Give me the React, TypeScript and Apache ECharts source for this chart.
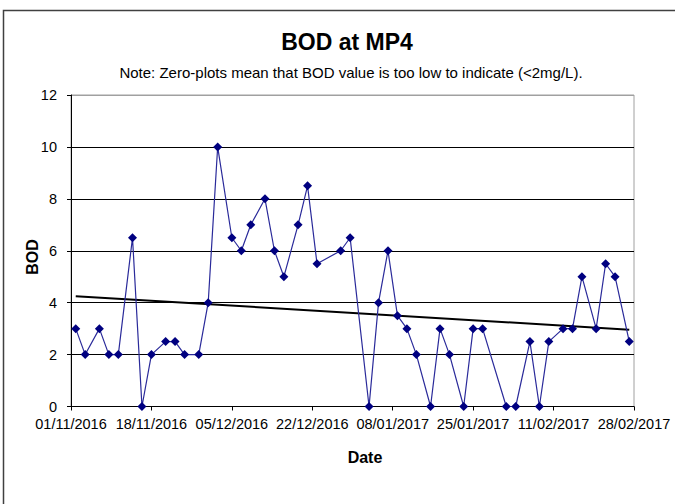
import React, { useEffect, useRef } from "react";
import * as echarts from "echarts";

const dates = [
  "2016-11-02", "2016-11-04", "2016-11-07", "2016-11-09", "2016-11-11", "2016-11-14", "2016-11-16",
  "2016-11-18", "2016-11-21", "2016-11-23", "2016-11-25", "2016-11-28", "2016-11-30", "2016-12-02",
  "2016-12-05", "2016-12-07", "2016-12-09", "2016-12-12", "2016-12-14", "2016-12-16", "2016-12-19",
  "2016-12-21", "2016-12-23", "2016-12-28", "2016-12-30", "2017-01-03", "2017-01-05", "2017-01-07",
  "2017-01-09", "2017-01-11", "2017-01-13", "2017-01-16", "2017-01-18", "2017-01-20", "2017-01-23",
  "2017-01-25", "2017-01-27", "2017-02-01", "2017-02-03", "2017-02-06", "2017-02-08", "2017-02-10",
  "2017-02-13", "2017-02-15", "2017-02-17", "2017-02-20", "2017-02-22", "2017-02-24", "2017-02-27",
];
const bod = [
  3, 2, 3, 2, 2, 6.5, 0,
  2, 2.5, 2.5, 2, 2, 4, 10,
  6.5, 6, 7, 8, 6, 5, 7,
  8.5, 5.5, 6, 6.5, 0, 4, 6,
  3.5, 3, 2, 0, 3, 2, 0,
  3, 3, 0, 0, 2.5, 0, 2.5,
  3, 3, 5, 3, 5.5, 5, 2.5,
];
const axisStart = "2016-11-01";
const axisEnd = "2017-02-28";
const tickDays = 17;
const yTicks = [0, 2, 4, 6, 8, 10, 12];

const DAY = 86400000;
const toUTC = (s: string) => {
  const [y, m, d] = s.split("-").map(Number);
  return Date.UTC(y, m - 1, d);
};
const base = toUTC(axisStart);
const toDay = (s: string) => Math.round((toUTC(s) - base) / DAY);
const fmt = (day: number) => {
  const d = new Date(base + day * DAY);
  const dd = String(d.getUTCDate()).padStart(2, "0");
  const mm = String(d.getUTCMonth() + 1).padStart(2, "0");
  return `${dd}/${mm}/${d.getUTCFullYear()}`;
};

export default function App() {
  const ref = useRef<HTMLDivElement>(null);
  useEffect(() => {
    if (!ref.current) return;
    const chart = echarts.init(ref.current, undefined, { renderer: "svg" });
    const xs = dates.map(toDay);
    const pts = xs.map((x, i) => [x, bod[i]]);
    // least-squares trend line (as in the spreadsheet)
    const n = xs.length;
    const mx = xs.reduce((a, b) => a + b, 0) / n;
    const my = bod.reduce((a, b) => a + b, 0) / n;
    let sxy = 0, sxx = 0;
    xs.forEach((x, i) => {
      sxy += (x - mx) * (bod[i] - my);
      sxx += (x - mx) * (x - mx);
    });
    const slope = sxy / sxx;
    const icpt = my - slope * mx;
    const x0 = xs[0], x1 = xs[n - 1];
    const trend = [[x0, icpt + slope * x0], [x1, icpt + slope * x1]];
    const font = "'Liberation Sans', Arial, sans-serif";
    const maxDay = toDay(axisEnd);

    chart.setOption({
      animation: false,
      backgroundColor: "#fff",
      textStyle: { fontFamily: font },
      title: [
        {
          text: "BOD at MP4",
          left: 342,
          top: 25,
          textAlign: "center",
          textStyle: { fontFamily: font, fontSize: 23, fontWeight: "bold", color: "#000" },
        },
        {
          text: "Note: Zero-plots mean that BOD value is too low to indicate (<2mg/L).",
          left: 346,
          top: 60,
          textAlign: "center",
          textStyle: { fontFamily: font, fontSize: 15, fontWeight: "normal", color: "#000" },
        },
      ],
      graphic: [
        {
          type: "rect",
          shape: { x: 3.5, y: 10.5, width: 800, height: 700 },
          style: { fill: "none", stroke: "#404040", lineWidth: 1.5 },
          silent: true,
        },
        {
          type: "text",
          x: 32,
          y: 257,
          rotation: Math.PI / 2,
          style: {
            text: "BOD",
            fontFamily: font,
            fontSize: 16,
            fontWeight: "bold",
            fill: "#000",
            align: "center",
            verticalAlign: "middle",
          },
        },
        {
          type: "text",
          x: 365,
          y: 457,
          style: {
            text: "Date",
            fontFamily: font,
            fontSize: 16,
            fontWeight: "bold",
            fill: "#000",
            align: "center",
            verticalAlign: "middle",
          },
        },
      ],
      grid: {
        left: 71,
        right: 41,
        top: 95,
        bottom: 97.5,
        show: true,
        borderColor: "#a0a0a0",
        borderWidth: 1,
        backgroundColor: "transparent",
      },
      xAxis: {
        type: "value",
        min: 0,
        max: maxDay,
        interval: tickDays,
        axisLine: { show: true, lineStyle: { color: "#000", width: 1 } },
        axisTick: { show: true, length: 4, inside: false, lineStyle: { color: "#000" } },
        axisLabel: {
          formatter: (v: number) => fmt(v),
          fontFamily: font,
          fontSize: 14.5,
          lineHeight: 14,
          color: "#000",
          margin: 10,
          showMinLabel: true,
          showMaxLabel: true,
          hideOverlap: false,
        },
        splitLine: { show: false },
      },
      yAxis: {
        type: "value",
        min: yTicks[0],
        max: yTicks[yTicks.length - 1],
        interval: 2,
        axisLine: { show: true, lineStyle: { color: "#000", width: 1 } },
        axisTick: { show: true, length: 4, inside: false, lineStyle: { color: "#000" } },
        axisLabel: { fontFamily: font, fontSize: 14.5, lineHeight: 13, color: "#000", margin: 14 },
        splitLine: {
          show: true,
          lineStyle: {
            color: ["#000", "#000", "#000", "#000", "#000", "#000", "#a0a0a0"],
            width: 1,
          },
        },
      },
      series: [
        {
          name: "Trend",
          type: "line",
          data: trend,
          symbol: "none",
          lineStyle: { color: "#000", width: 2 },
          z: 3,
        },
        {
          name: "BOD",
          type: "line",
          data: pts,
          symbol: "diamond",
          symbolSize: 9,
          itemStyle: { color: "#000080" },
          lineStyle: { color: "#2a2a9a", width: 1.2 },
          z: 4,
        },
      ],
    });
    return () => chart.dispose();
  }, []);
  return (
    <div
      ref={ref}
      style={{ position: "fixed", left: 0, top: 0, width: 675, height: 504 }}
    />
  );
}
